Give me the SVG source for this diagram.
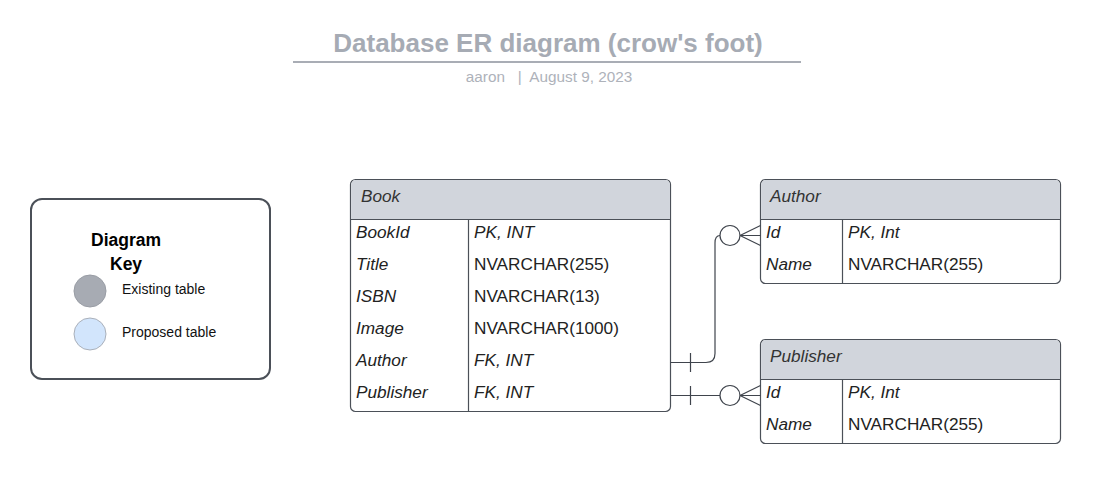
<svg xmlns="http://www.w3.org/2000/svg" width="1100" height="485" viewBox="0 0 1100 485">
<style>
text{font-family:"Liberation Sans",Arial,sans-serif;}
.t{font-size:17.2px;fill:#222;}
.i{font-style:italic;}
.h{font-size:17.2px;font-style:italic;fill:#333;}
.box{fill:#fff;stroke:#4b5058;stroke-width:1.2;}
.hd{fill:#d1d5dc;}
.ln{stroke:#4b5058;stroke-width:1.2;fill:none;}
.cn{stroke:#3f444c;stroke-width:1.2;fill:none;}
</style>
<rect width="1100" height="485" fill="#fff"/>
<g id="title">
<text x="548" y="52" text-anchor="middle" style="font-size:26px;font-weight:bold;fill:#a6abb4">Database ER diagram (crow's foot)</text>
<line x1="293" y1="62" x2="801" y2="62" stroke="#a9adb5" stroke-width="2"/>
<text x="549" y="82" text-anchor="middle" style="font-size:15.3px;fill:#aeb2ba" xml:space="preserve">aaron   |  August 9, 2023</text>
</g>
<g id="legend">
<rect x="31" y="199" width="239" height="180" rx="11" fill="#fff" stroke="#4b5058" stroke-width="2"/>
<text x="91" y="246" style="font-size:17.5px;font-weight:bold;fill:#000">Diagram</text>
<text x="110" y="270" style="font-size:17.5px;font-weight:bold;fill:#000">Key</text>
<circle cx="90" cy="291" r="16" fill="#a7abb3" stroke="#999da5"/>
<circle cx="90" cy="334" r="16" fill="#d2e5fc" stroke="#aab0ba"/>
<text x="122" y="294" style="font-size:14px;fill:#111">Existing table</text>
<text x="122" y="337" style="font-size:14px;fill:#111">Proposed table</text>
</g>
<g id="book">
<rect class="box" x="350.5" y="179.5" width="320" height="232" rx="5"/>
<path class="hd" d="M355.5,180.1 H665.5 A4.4,4.4 0 0 1 670,184.5 V219.5 H351.1 V184.5 A4.4,4.4 0 0 1 355.5,180.1 Z"/>
<line class="ln" x1="350.5" y1="219.5" x2="670.5" y2="219.5"/>
<line class="ln" x1="468.5" y1="219.5" x2="468.5" y2="411.5"/>
<text class="h" x="361" y="202">Book</text>
<text class="t i" x="356" y="238">BookId</text><text class="t i" x="474" y="238">PK, INT</text>
<text class="t i" x="356" y="270">Title</text><text class="t" x="474" y="270">NVARCHAR(255)</text>
<text class="t i" x="356" y="302">ISBN</text><text class="t" x="474" y="302">NVARCHAR(13)</text>
<text class="t i" x="356" y="334">Image</text><text class="t" x="474" y="334">NVARCHAR(1000)</text>
<text class="t i" x="356" y="366">Author</text><text class="t i" x="474" y="366">FK, INT</text>
<text class="t i" x="356" y="398">Publisher</text><text class="t i" x="474" y="398">FK, INT</text>
</g>
<g id="author">
<rect class="box" x="760.5" y="179.5" width="300" height="104" rx="5"/>
<path class="hd" d="M765.5,180.1 H1055.5 A4.4,4.4 0 0 1 1060,184.5 V219.5 H761.1 V184.5 A4.4,4.4 0 0 1 765.5,180.1 Z"/>
<line class="ln" x1="760.5" y1="219.5" x2="1060.5" y2="219.5"/>
<line class="ln" x1="842.5" y1="219.5" x2="842.5" y2="283.5"/>
<text class="h" x="770" y="202">Author</text>
<text class="t i" x="766" y="238">Id</text><text class="t i" x="848" y="238">PK, Int</text>
<text class="t i" x="766" y="270">Name</text><text class="t" x="848" y="270">NVARCHAR(255)</text>
</g>
<g id="publisher">
<rect class="box" x="760.5" y="339.5" width="300" height="104" rx="5"/>
<path class="hd" d="M765.5,340.1 H1055.5 A4.4,4.4 0 0 1 1060,344.5 V379.5 H761.1 V344.5 A4.4,4.4 0 0 1 765.5,340.1 Z"/>
<line class="ln" x1="760.5" y1="379.5" x2="1060.5" y2="379.5"/>
<line class="ln" x1="842.5" y1="379.5" x2="842.5" y2="443.5"/>
<text class="h" x="770" y="362">Publisher</text>
<text class="t i" x="766" y="398">Id</text><text class="t i" x="848" y="398">PK, Int</text>
<text class="t i" x="766" y="430">Name</text><text class="t" x="848" y="430">NVARCHAR(255)</text>
</g>
<g id="connectors">
<path class="cn" d="M670.5,362.5 H706 Q715,362.5 715,353.5 V243 Q715,235.5 720,235.5"/>
<line class="cn" x1="690.5" y1="353" x2="690.5" y2="372"/>
<circle class="cn" cx="730" cy="235.5" r="10" fill="#fff"/>
<path class="cn" d="M740,235.5 L760.5,225.5 M740,235.5 H760.5 M740,235.5 L760.5,245.5"/>
<path class="cn" d="M670.5,395.5 H720"/>
<line class="cn" x1="690.5" y1="386" x2="690.5" y2="405"/>
<circle class="cn" cx="730" cy="395.5" r="10" fill="#fff"/>
<path class="cn" d="M740,395.5 L760.5,385.5 M740,395.5 H760.5 M740,395.5 L760.5,405.5"/>
</g>
</svg>
